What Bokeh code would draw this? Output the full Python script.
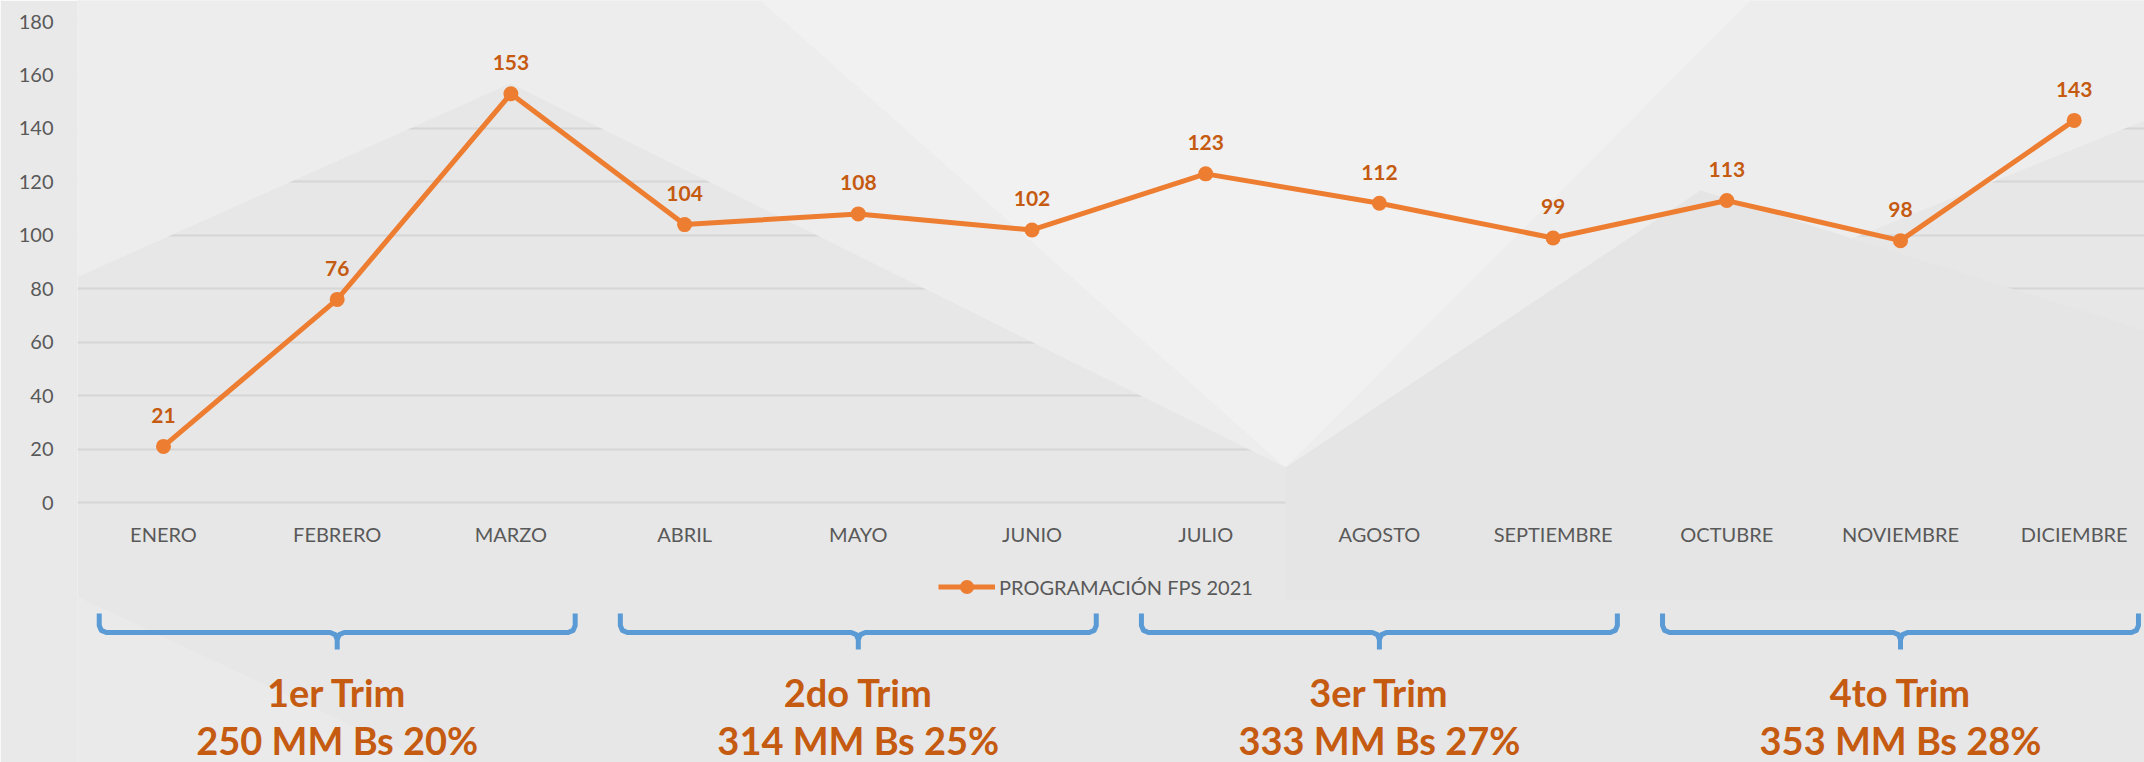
from bokeh.plotting import figure
from bokeh.models import Range1d, FixedTicker, Legend, LegendItem, ColumnDataSource
from bokeh.core.properties import value
from bokeh.embed import file_html
from bokeh.resources import INLINE

# ---------------- data ----------------
months = ["ENERO", "FEBRERO", "MARZO", "ABRIL", "MAYO", "JUNIO",
          "JULIO", "AGOSTO", "SEPTIEMBRE", "OCTUBRE", "NOVIEMBRE", "DICIEMBRE"]
values = [21, 76, 153, 104, 108, 102, 123, 112, 99, 113, 98, 143]
y_ticks = [0, 20, 40, 60, 80, 100, 120, 140, 160, 180]
series_name = "PROGRAMACIÓN FPS 2021"
quarter_titles = ["1er Trim", "2do Trim", "3er Trim", "4to Trim"]
quarter_amounts = ["250 MM Bs 20%", "314 MM Bs 25%", "333 MM Bs 27%", "353 MM Bs 28%"]
months_per_quarter = 3

# ---------------- layout constants (px of the picture) ----------------
W, H = 2144, 762
X0, DX = 163.0, 173.7      # x of first category, category spacing
Y0, PPU = 502.0, 2.672     # y of value 0, px per value unit
FRAME_L, FRAME_R = 77, W
FRAME_T, FRAME_B = 0, H


def ux(sx):
    return (sx - X0) / DX


def uy(sy):
    return (Y0 - sy) / PPU


ORANGE = "#ed7d31"
LABEL_ORANGE = "#c55a11"
BLUE = "#5b9bd5"
GRAY_TXT = "#595959"
FONT = value("Lato")

p = figure(width=W, height=H, output_backend="svg", toolbar_location=None,
           x_range=Range1d(ux(FRAME_L), ux(FRAME_R)),
           y_range=Range1d(uy(FRAME_B), uy(FRAME_T)),
           x_axis_location=None,
           min_border_left=FRAME_L, min_border_right=0,
           min_border_top=0, min_border_bottom=0)
p.background_fill_color = "#e7e7e7"
p.border_fill_color = "#e9e9e9"
p.outline_line_color = None

# ---------------- decorative background shapes ----------------
decor = [
    ([(0, 0), (2144, 0), (2144, 120), (1285, 467), (510, 83), (0, 311)], "#ededed"),
    ([(760, 0), (1285, 467), (1750, 0)], "#f1f1f1"),
    ([(0, 560), (0, 762), (430, 762)], "#eaeaea"),
    ([(1285, 467), (1700, 190), (2144, 330), (2144, 600), (1285, 600)], "#e5e5e5"),
]
for pts, col in decor:
    p.patch([ux(a) for a, b in pts], [uy(b) for a, b in pts],
            fill_color=col, line_color=None)

# ---------------- axes / grid ----------------
p.yaxis.ticker = FixedTicker(ticks=y_ticks)
p.ygrid.ticker = FixedTicker(ticks=y_ticks)
p.yaxis.axis_line_color = None
p.yaxis.major_tick_line_color = None
p.yaxis.minor_tick_line_color = None
p.yaxis.major_tick_out = 0
p.yaxis.major_label_standoff = 24
p.yaxis.major_label_text_font = "Lato"
p.yaxis.major_label_text_font_size = "20px"
p.yaxis.major_label_text_color = GRAY_TXT
p.ygrid.grid_line_color = "#d6d6d6"
p.ygrid.grid_line_width = 2
p.xgrid.grid_line_color = None

# ---------------- series ----------------
xs = list(range(len(months)))
src = ColumnDataSource(dict(x=xs, y=values, lab=[str(v) for v in values],
                            ly=[v + 31 / PPU for v in values]))
ln = p.line("x", "y", source=src, line_color=ORANGE, line_width=5)
pts_r = p.scatter("x", "y", source=src, size=15, fill_color=ORANGE, line_color=None)

p.text("x", "ly", text="lab", source=src, text_font=FONT, text_font_size="21px",
       text_font_style="bold", text_color=LABEL_ORANGE,
       text_align="center", text_baseline="middle")

# month labels
p.text(xs, [uy(533.5)] * len(months), text=months, text_font=FONT,
       text_font_size="20px", text_color=GRAY_TXT,
       text_align="center", text_baseline="middle")

# ---------------- legend ----------------
LEG_H = 35
legend = Legend(items=[LegendItem(label=series_name, renderers=[ln, pts_r])],
                location=(938 - FRAME_L, FRAME_B - (587 + LEG_H // 2)),
                orientation="horizontal",
                glyph_width=57, glyph_height=LEG_H, label_height=LEG_H,
                label_standoff=4, padding=0, margin=0, spacing=0,
                label_text_font="Lato", label_text_font_size="20px",
                label_text_color=GRAY_TXT,
                background_fill_alpha=0, border_line_alpha=0)
p.add_layout(legend)

# ---------------- quarter braces and texts ----------------
top, mid, tip = uy(613), uy(632), uy(649)
rx, ry = 7 / DX, 7 / PPU
bx, by = [], []
qc, q1y, q2y = [], [], []
for q in range(len(quarter_titles)):
    first = q * months_per_quarter
    last = first + months_per_quarter - 1
    C = (first + last) / 2
    L = first - 0.37
    R = last + 0.37
    bx.append([L, L, L + rx * 0.3, L + rx, C - rx, C - rx * 0.3, C, C])
    by.append([top, mid + ry, mid + ry * 0.3, mid, mid, mid - ry * 0.3, mid - ry, tip])
    bx.append([C, C + rx * 0.3, C + rx, R - rx, R - rx * 0.3, R, R])
    by.append([mid - ry, mid - ry * 0.3, mid, mid, mid + ry * 0.3, mid + ry, top])
    qc.append(C)
    q1y.append(uy(691))
    q2y.append(uy(739))

p.multi_line(bx, by, line_color=BLUE, line_width=5, line_join="round")

p.text(qc, q1y, text=quarter_titles, text_font=FONT, text_font_size="38px",
       text_font_style="bold", text_color=LABEL_ORANGE,
       text_align="center", text_baseline="alphabetic")
p.text(qc, q2y, text=quarter_amounts, text_font=FONT, text_font_size="38px",
       text_font_style="bold", text_color=LABEL_ORANGE,
       text_align="center", text_baseline="alphabetic")

open("out.html", "w").write(file_html(p, INLINE))
